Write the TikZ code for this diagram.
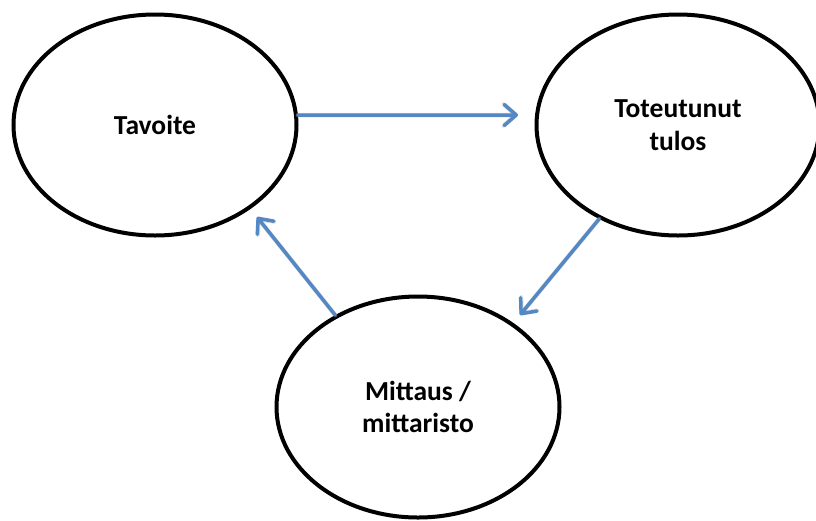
\documentclass[tikz,border=0pt]{standalone}
\usepackage{fontspec}
\setmainfont{Carlito}
\usetikzlibrary{shapes.geometric,arrows.meta}
\definecolor{flowblue}{HTML}{5388C4}
\tikzset{
  phase/.style={ellipse, draw=black, line width=4pt, fill=white,
    minimum width=283pt, minimum height=221pt, inner sep=0pt,
    align=center, font=\fontsize{27.5pt}{32.5pt}\selectfont\bfseries},
  flow/.style={draw=flowblue, line width=3.5pt, line cap=round,
    -{Straight Barb[length=12pt, width=21pt, line cap=round, line join=round]}},
  flowshadow/.style={draw=black!35, opacity=0.35, line width=4.5pt, line cap=round,
    -{Straight Barb[length=12pt, width=21pt, line cap=round, line join=round]}}
}
\begin{document}
\begin{tikzpicture}[x=1pt, y=-1pt]
  \useasboundingbox (0,0) rectangle (816,520);
  \begin{scope}
    \clip (0,0) rectangle (816,520);
    \node[phase] (tav) at (155,125) {Tavoite};
    \node[phase] (tot) at (678,125) {Toteutunut\\tulos};
    \node[phase] (mit) at (418,407) {Mittaus /\\mittaristo};
  \end{scope}

  % free ends of the connectors
  \coordinate (totin) at (518,115);
  \coordinate (mitin) at (520,315);
  \coordinate (tavin) at (257,217);

  % soft shadows under the connectors
  \begin{scope}[shift={(1.5,2)}]
    \draw[flowshadow] (tav.4) -- (totin);
    \draw[flowshadow] (tot.230) -- (mitin);
    \draw[flowshadow] (mit.132) -- (tavin);
  \end{scope}

  \draw[flow] (tav.4) -- (totin);
  \draw[flow] (tot.230) -- (mitin);
  \draw[flow] (mit.132) -- (tavin);
\end{tikzpicture}
\end{document}
